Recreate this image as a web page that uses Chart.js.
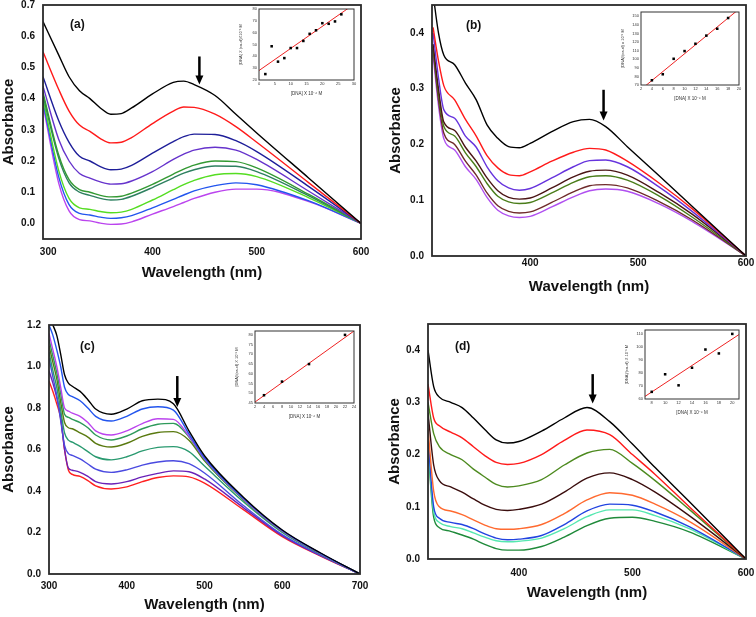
<!DOCTYPE html>
<html>
<head>
<meta charset="utf-8">
<script src="https://cdn.jsdelivr.net/npm/chart.js@4.4.0/dist/chart.umd.min.js"></script>
<style>
  body { margin: 0; background: #fff; }
  #fig { position: relative; width: 756px; height: 617px; overflow: hidden; font-family: "Liberation Sans", Arial, sans-serif; }
  canvas { position: absolute; }
  .tag { position: absolute; font: bold 12px "Liberation Sans", Arial, sans-serif; color: #111; }
</style>
</head>
<body>
<div id="fig">
  <canvas id="chartA" width="372" height="282" style="left:0;top:0"></canvas>
  <canvas id="chartB" width="378" height="296" style="left:378px;top:0"></canvas>
  <canvas id="chartC" width="372" height="314" style="left:0;top:300px"></canvas>
  <canvas id="chartD" width="378" height="302" style="left:378px;top:300px"></canvas>
  <canvas id="insetA" width="120" height="91" style="left:238px;top:5px"></canvas>
  <canvas id="insetB" width="123" height="94" style="left:620px;top:7px"></canvas>
  <canvas id="insetC" width="124" height="93" style="left:234px;top:326px"></canvas>
  <canvas id="insetD" width="119" height="90" style="left:624px;top:325px"></canvas>
  <div class="tag" style="left:70px;top:17px">(a)</div>
  <div class="tag" style="left:466px;top:18px">(b)</div>
  <div class="tag" style="left:80px;top:339px">(c)</div>
  <div class="tag" style="left:455px;top:339px">(d)</div>
</div>
<script>
// ---- panel (a) ----
const WL_A = [295, 310, 320, 330, 340, 350, 360, 370, 380, 400, 420, 430, 440, 460, 480, 500, 550, 600];
const A1 = [.647, .54, .47, .425, .40, .37, .35, .352, .37, .415, .452, .456, .445, .41, .35, .29, .145, 0];
const A2 = [.55, .43, .36, .315, .295, .272, .258, .26, .275, .32, .36, .373, .372, .35, .31, .26, .13, 0];
const A3 = [.47, .33, .26, .215, .2, .182, .172, .174, .186, .225, .262, .278, .286, .285, .265, .23, .118, 0];
const A4 = [.44, .27, .2, .16, .145, .133, .126, .127, .136, .166, .205, .222, .235, .244, .235, .205, .103, 0];
const A5 = [.42, .22, .14, .108, .1, .09, .085, .087, .097, .125, .158, .174, .187, .2, .198, .178, .093, 0];
const A6 = [.41, .21, .13, .1, .09, .08, .075, .077, .087, .115, .146, .161, .172, .184, .183, .166, .088, 0];
const A7 = [.40, .17, .08, .05, .045, .038, .034, .036, .045, .075, .108, .124, .138, .156, .16, .15, .082, 0];
const A8 = [.39, .15, .06, .032, .027, .02, .016, .018, .025, .05, .077, .091, .104, .121, .13, .124, .072, 0];
const A9 = [.38, .13, .04, .012, .008, .001, -.003, -.002, .005, .03, .054, .067, .08, .1, .11, .11, .07, 0];
const COLORS_A = ['#000000', '#ff1a1a', '#1e1e99', '#6633cc', '#339933', '#2e8060', '#55dd22', '#2255ee', '#bb44ee'];
const XTICKS_A = [300, 400, 500, 600];
const YTICKS_A = [0, .1, .2, .3, .4, .5, .6, .7];
const ARROW_A = [445, .535, .445];

// ---- panel (b) ----
const WL_B = [310, 315, 320, 330, 340, 350, 360, 370, 380, 390, 400, 420, 440, 455, 470, 490, 520, 550, 600];
const B1 = [.47, .40, .36, .343, .31, .28, .235, .211, .196, .194, .202, .223, .241, .245, .232, .196, .143, .089, 0];
const B2 = [.41, .35, .305, .28, .245, .215, .18, .158, .146, .144, .151, .17, .186, .193, .19, .17, .13, .085, 0];
const B3 = [.40, .32, .262, .247, .215, .195, .16, .135, .122, .118, .121, .14, .16, .171, .172, .16, .123, .08, 0];
const B4 = [.38, .30, .24, .225, .195, .17, .14, .117, .105, .102, .104, .122, .142, .152, .154, .145, .113, .075, 0];
const B5 = [.375, .29, .232, .215, .185, .16, .13, .107, .097, .094, .096, .113, .132, .142, .144, .136, .107, .07, 0];
const B6 = [.37, .28, .22, .2, .17, .145, .113, .09, .08, .077, .079, .096, .115, .126, .128, .122, .097, .065, 0];
const B7 = [.36, .27, .21, .19, .16, .137, .105, .082, .072, .069, .071, .088, .106, .117, .12, .116, .093, .062, 0];
const COLORS_B = ['#000000', '#ff1a1a', '#6633dd', '#4a1515', '#4a7d1a', '#6e2a2a', '#b050f0'];
const XTICKS_B = [400, 500, 600];
const YTICKS_B = [0, .1, .2, .3, .4];
const ARROW_B = [468, .298, .243];

// ---- panel (c) ----
const WL_C = [300, 305, 310, 315, 320, 325, 330, 340, 350, 360, 380, 400, 420, 440, 460, 480, 500, 550, 600, 650, 700];
const C1 = [1.25, 1.2, 1.15, 1.06, .96, .92, .905, .88, .84, .795, .77, .795, .835, .843, .82, .69, .57, .37, .212, .1, 0];
const C2 = [1.2, 1.15, 1.08, 1.0, .9, .865, .855, .835, .8, .76, .737, .76, .795, .806, .79, .675, .56, .365, .21, .098, 0];
const C3 = [1.16, 1.08, 1.0, .9, .8, .785, .775, .76, .73, .69, .67, .69, .725, .748, .745, .665, .555, .362, .208, .097, 0];
const C4 = [1.13, 1.05, .97, .87, .77, .755, .745, .73, .705, .67, .646, .665, .7, .722, .726, .66, .55, .36, .207, .097, 0];
const C5 = [1.1, 1.02, .94, .83, .73, .705, .7, .68, .66, .63, .612, .63, .663, .682, .686, .645, .545, .358, .206, .096, 0];
const C6 = [1.07, .98, .9, .79, .68, .645, .635, .615, .59, .565, .55, .565, .593, .61, .614, .59, .52, .348, .2, .094, 0];
const C7 = [1.04, .95, .86, .74, .62, .58, .572, .555, .53, .505, .49, .502, .525, .54, .546, .532, .487, .33, .19, .09, 0];
const C8 = [.98, .92, .85, .76, .6, .51, .5, .49, .47, .445, .434, .445, .468, .485, .497, .493, .458, .32, .185, .087, 0];
const C9 = [.93, .88, .82, .75, .6, .5, .48, .47, .45, .425, .41, .42, .445, .465, .473, .468, .438, .31, .18, .085, 0];
const COLORS_C = ['#000000', '#2255ee', '#bb44ee', '#2e9a5a', '#5a7a10', '#2a9a70', '#4a4ae0', '#6a22b8', '#ff2020'];
const XTICKS_C = [300, 400, 500, 600, 700];
const YTICKS_C = [0, .2, .4, .6, .8, 1.0, 1.2];
const ARROW_C = [465, .954, .805];

// ---- panel (d) ----
const WL_D = [320, 325, 330, 340, 350, 360, 370, 380, 390, 400, 420, 440, 460, 480, 500, 520, 550, 600];
const D1 = [.40, .33, .31, .30, .29, .27, .248, .228, .222, .225, .245, .27, .29, .263, .22, .175, .11, 0];
const D2 = [.335, .27, .255, .243, .232, .215, .198, .185, .181, .183, .2, .227, .247, .238, .2, .162, .1, 0];
const D3 = [.30, .24, .215, .2, .19, .172, .157, .143, .138, .14, .152, .18, .203, .21, .183, .15, .095, 0];
const D4 = [.28, .18, .15, .138, .128, .115, .103, .095, .093, .095, .105, .128, .155, .165, .152, .128, .083, 0];
const D5 = [.25, .13, .1, .092, .085, .075, .065, .058, .057, .058, .066, .087, .113, .127, .122, .105, .072, 0];
const D6 = [.23, .1, .078, .07, .066, .058, .048, .04, .037, .038, .045, .066, .092, .105, .103, .09, .062, 0];
const D7 = [.22, .09, .07, .062, .058, .05, .042, .035, .033, .034, .04, .058, .081, .094, .094, .083, .058, 0];
const D8 = [.21, .08, .06, .053, .046, .038, .028, .02, .017, .017, .024, .042, .064, .078, .08, .072, .052, 0];
const COLORS_D = ['#000000', '#ff1a1a', '#4d8a1f', '#3a0d0d', '#ff6a30', '#2244e0', '#55e8b0', '#1f8a3a'];
const XTICKS_D = [400, 500, 600];
const YTICKS_D = [0, .1, .2, .3, .4];
const ARROW_D = [465, .354, .298];

// ---- insets ----
const INSET_A_X = [2, 4, 6, 8, 10, 12, 14, 16, 18, 20, 22, 24, 26];
const INSET_A_Y = [25, 48.5, 35.5, 38.5, 47, 47, 53, 59, 62, 68, 67.5, 69.5, 75.5];
const INSET_A_FIT = [[0, 28], [30, 84]];
const INSET_B_X = [4, 6, 8, 10, 12, 14, 16, 18];
const INSET_B_Y = [75.5, 82.5, 100.5, 109.5, 118, 127.5, 135.5, 148];
const INSET_B_FIT = [[2, 64.8], [20, 158.4]];
const INSET_C_X = [4, 8, 14, 22];
const INSET_C_Y = [49, 56, 65, 80];
const INSET_C_FIT = [[2, 45.5], [24, 82]];
const INSET_D_X = [8, 10, 12, 14, 16, 18, 20];
const INSET_D_Y = [65.5, 79, 70.5, 84, 98, 95, 110];
const INSET_D_FIT = [[7, 62], [21, 109.5]];

const FONT = '"Liberation Sans", Arial, sans-serif';

// рамка вокруг области графика
const framePlugin = {
  id: 'frame',
  afterDraw(chart, args, opts) {
    const { ctx, chartArea: a } = chart;
    ctx.save();
    ctx.strokeStyle = opts.color || '#333';
    ctx.lineWidth = opts.width || 1.5;
    ctx.strokeRect(a.left, a.top, a.right - a.left, a.bottom - a.top);
    ctx.restore();
  }
};

// вертикальная стрелка (x, от, до) в координатах данных
const arrowPlugin = {
  id: 'arrow',
  afterDatasetsDraw(chart, args, opts) {
    if (!opts || !opts.at) return;
    const [wl, from, to] = opts.at;
    const { ctx, scales } = chart;
    const x = scales.x.getPixelForValue(wl);
    const y1 = scales.y.getPixelForValue(from);
    const y2 = scales.y.getPixelForValue(to);
    ctx.save();
    ctx.strokeStyle = '#000';
    ctx.fillStyle = '#000';
    ctx.lineWidth = 2.5;
    ctx.beginPath();
    ctx.moveTo(x, y1);
    ctx.lineTo(x, y2 - 7);
    ctx.stroke();
    ctx.beginPath();
    ctx.moveTo(x - 4, y2 - 9);
    ctx.lineTo(x + 4, y2 - 9);
    ctx.lineTo(x, y2);
    ctx.closePath();
    ctx.fill();
    ctx.restore();
  }
};

function fixedTicks(list) {
  return s => { s.ticks = list.map(v => ({ value: v })); };
}

// фиксированный размер оси и без запаса под крайние подписи
function fitX(h) {
  return s => { s.height = h; s.paddingLeft = 0; s.paddingRight = 0; };
}
function fitY(w) {
  return s => { s.width = w; s.paddingTop = 0; s.paddingBottom = 0; };
}

function spectrum(id, wl, series, colors, o) {
  return new Chart(document.getElementById(id), {
    type: 'line',
    data: {
      datasets: series.map((s, i) => ({
        data: wl.map((x, j) => ({ x, y: s[j] })),
        borderColor: colors[i],
        borderWidth: 1.4,
        pointRadius: 0,
        cubicInterpolationMode: 'monotone',
        fill: false
      }))
    },
    options: {
      responsive: false, animation: false, events: [],
      layout: { padding: o.pad },
      plugins: {
        legend: { display: false }, tooltip: { enabled: false },
        frame: { color: '#2a2a2a', width: 1.8 },
        arrow: { at: o.arrow }
      },
      scales: {
        x: {
          type: 'linear', min: o.xMin, max: o.xMax,
          grid: { display: false, drawTicks: false }, border: { display: false },
          afterBuildTicks: fixedTicks(o.xTicks),
          afterFit: fitX(o.xH),
          ticks: { font: { family: FONT, size: 10, weight: 'bold' }, color: '#111', padding: o.xPad, maxRotation: 0, autoSkip: false },
          title: { display: true, text: 'Wavelength (nm)', font: { family: FONT, size: 15, weight: 'bold' }, color: '#111', padding: 0 }
        },
        y: {
          type: 'linear', min: o.yMin, max: o.yMax,
          grid: { display: false, drawTicks: false }, border: { display: false },
          afterBuildTicks: fixedTicks(o.yTicks),
          afterFit: fitY(o.yW),
          ticks: { font: { family: FONT, size: 10, weight: 'bold' }, color: '#111', padding: 8, autoSkip: false,
                   callback: v => Number(v).toFixed(1) },
          title: { display: true, text: 'Absorbance', font: { family: FONT, size: 15, weight: 'bold' }, color: '#111', padding: 0 }
        }
      }
    },
    plugins: [framePlugin, arrowPlugin]
  });
}

function inset(id, xs, ys, fit, o) {
  const tickFont = { family: FONT, size: 4 };
  return new Chart(document.getElementById(id), {
    type: 'scatter',
    data: {
      datasets: [
        { data: xs.map((x, i) => ({ x, y: ys[i] })), pointStyle: 'rect', pointRadius: 1.8,
          backgroundColor: '#000', borderColor: '#000', borderWidth: 0 },
        { type: 'line', data: fit.map(p => ({ x: p[0], y: p[1] })), borderColor: '#ee2222',
          borderWidth: 1, pointRadius: 0, fill: false }
      ]
    },
    options: {
      responsive: false, animation: false, events: [],
      layout: { padding: o.pad },
      plugins: { legend: { display: false }, tooltip: { enabled: false }, frame: { color: '#333', width: 1 } },
      scales: {
        x: {
          type: 'linear', min: o.xMin, max: o.xMax,
          grid: { display: false, drawTicks: false }, border: { display: false },
          afterBuildTicks: fixedTicks(o.xTicks),
          afterFit: fitX(o.xH),
          ticks: { font: tickFont, color: '#333', padding: 1.5, maxRotation: 0, autoSkip: false },
          title: { display: true, text: '[DNA] X 10⁻⁶ M', font: { family: FONT, size: 4.5 }, color: '#333', padding: 0 }
        },
        y: {
          type: 'linear', min: o.yMin, max: o.yMax,
          grid: { display: false, drawTicks: false }, border: { display: false },
          afterBuildTicks: fixedTicks(o.yTicks),
          afterFit: fitY(o.yW),
          ticks: { font: tickFont, color: '#333', padding: 2, autoSkip: false },
          title: { display: true, text: o.yTitle, font: { family: FONT, size: 4 }, color: '#333', padding: 0 }
        }
      }
    },
    plugins: [framePlugin]
  });
}

spectrum('chartA', WL_A, [A1, A2, A3, A4, A5, A6, A7, A8, A9], COLORS_A, {
  xMin: 295, xMax: 600, yMin: -0.05, yMax: 0.7, xTicks: XTICKS_A, yTicks: YTICKS_A,
  pad: { left: 0, top: 5, right: 11, bottom: 0 }, yW: 43, xH: 43, xPad: 7, arrow: ARROW_A
});
spectrum('chartB', WL_B, [B1, B2, B3, B4, B5, B6, B7], COLORS_B, {
  xMin: 309, xMax: 600, yMin: 0, yMax: 0.45, xTicks: XTICKS_B, yTicks: YTICKS_B,
  pad: { left: 9, top: 5, right: 10, bottom: 0 }, yW: 45, xH: 40, xPad: 1, arrow: ARROW_B
});
spectrum('chartC', WL_C, [C1, C2, C3, C4, C5, C6, C7, C8, C9], COLORS_C, {
  xMin: 300, xMax: 700, yMin: 0, yMax: 1.2, xTicks: XTICKS_C, yTicks: YTICKS_C,
  pad: { left: 0, top: 25, right: 12, bottom: 0 }, yW: 49, xH: 40, xPad: 6, arrow: ARROW_C
});
spectrum('chartD', WL_D, [D1, D2, D3, D4, D5, D6, D7, D8], COLORS_D, {
  xMin: 320, xMax: 600, yMin: 0, yMax: 0.45, xTicks: XTICKS_D, yTicks: YTICKS_D,
  pad: { left: 8, top: 24, right: 10, bottom: 0 }, yW: 42, xH: 43, xPad: 8, arrow: ARROW_D
});

inset('insetA', INSET_A_X, INSET_A_Y, INSET_A_FIT, {
  xMin: 0, xMax: 30, yMin: 20, yMax: 80, xTicks: [0, 5, 10, 15, 20, 25, 30], yTicks: [20, 30, 40, 50, 60, 70, 80],
  pad: { left: 0, top: 4, right: 3, bottom: 0 }, yW: 21, xH: 16, yTitle: '[DNA] X (εa-εf)X10⁻⁸ M'
});
inset('insetB', INSET_B_X, INSET_B_Y, INSET_B_FIT, {
  xMin: 2, xMax: 20, yMin: 70, yMax: 155, xTicks: [2, 4, 6, 8, 10, 12, 14, 16, 18, 20],
  yTicks: [70, 80, 90, 100, 110, 120, 130, 140, 150],
  pad: { left: 0, top: 5, right: 3, bottom: 0 }, yW: 21, xH: 16, yTitle: '[DNA]/(εa-εf) x 10⁻⁸ M'
});
inset('insetC', INSET_C_X, INSET_C_Y, INSET_C_FIT, {
  xMin: 2, xMax: 24, yMin: 45, yMax: 82, xTicks: [2, 4, 6, 8, 10, 12, 14, 16, 18, 20, 22, 24],
  yTicks: [45, 50, 55, 60, 65, 70, 75, 80],
  pad: { left: 0, top: 5, right: 3, bottom: 0 }, yW: 21, xH: 16, yTitle: '[DNA]/(εa-εf) X 10⁻⁸ M'
});
inset('insetD', INSET_D_X, INSET_D_Y, INSET_D_FIT, {
  xMin: 7, xMax: 21, yMin: 60, yMax: 113, xTicks: [8, 10, 12, 14, 16, 18, 20], yTicks: [60, 70, 80, 90, 100, 110],
  pad: { left: 0, top: 5, right: 3, bottom: 0 }, yW: 21, xH: 16, yTitle: '[DNA]/(εa-εf) X 10⁻⁸ M'
});
</script>
</body>
</html>
